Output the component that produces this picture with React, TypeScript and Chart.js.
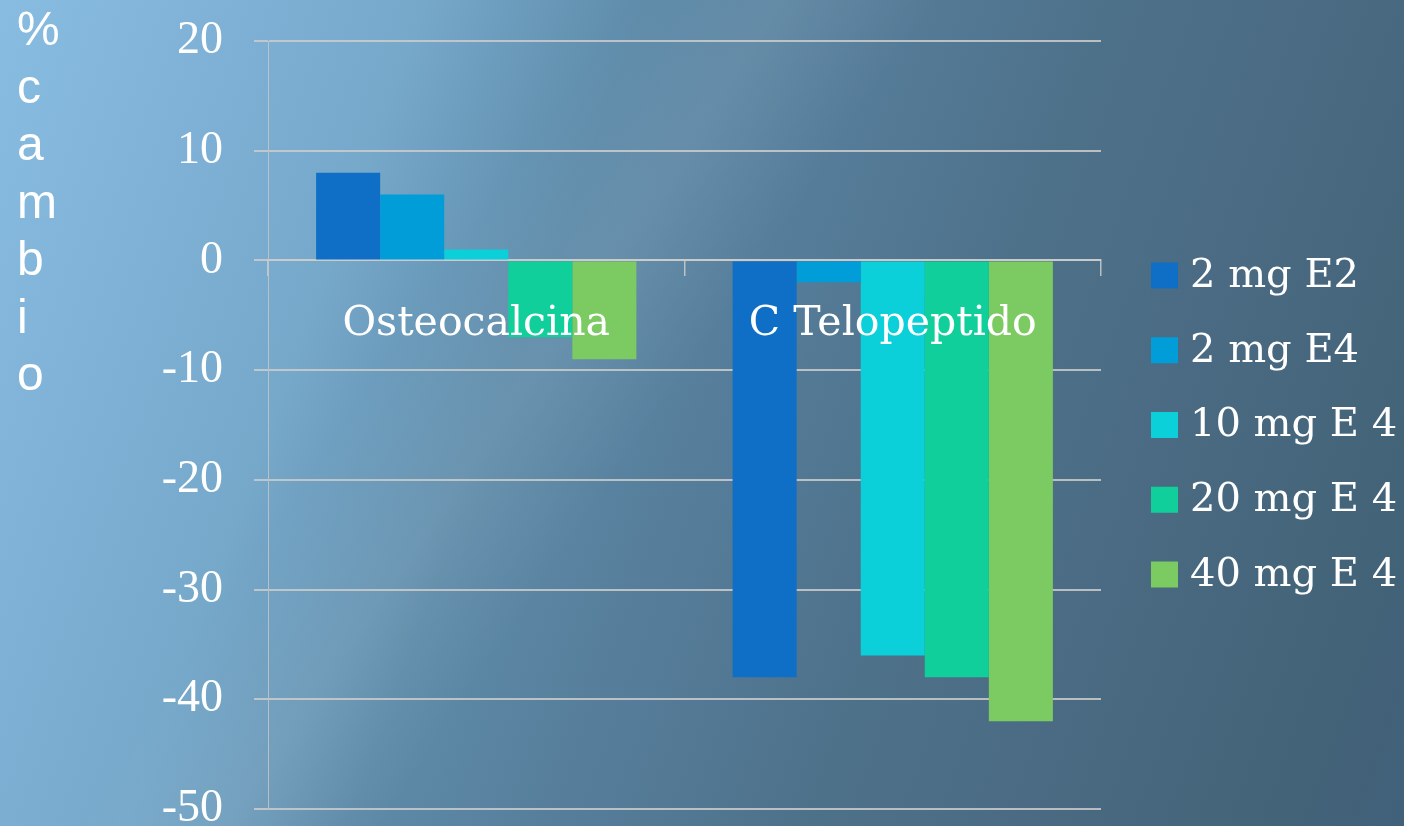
import React, { useEffect, useRef } from 'react';
import { Chart, registerables } from 'chart.js';

Chart.register(...registerables);

const categories = ['Osteocalcina', 'C Telopeptido'];
const seriesNames = ['2 mg E2', '2 mg E4', '10 mg E 4', '20 mg E 4', '40 mg E 4'];
const values2mgE2 = [8, -38];
const values2mgE4 = [6, -2];
const values10mgE4 = [1, -36];
const values20mgE4 = [-7, -38];
const values40mgE4 = [-9, -42];
const seriesColors = ['#0F6FC6', '#009DD9', '#0BD0D9', '#10CF9B', '#7CCA62'];
const yMin = -50;
const yMax = 20;
const yStep = 10;
const yTitle = '% cambio';

const SERIF = '"DejaVu Serif", serif';
const TICK_SERIF = '"Liberation Serif", serif';
const SANS = '"Liberation Sans", Arial, sans-serif';
const GRID = 'rgba(205,205,205,0.85)';

const legendPlugin = {
  id: 'sideLegend',
  afterDraw(chart: any) {
    const { ctx, chartArea } = chart;
    const ds = chart.data.datasets;
    const step = 74.75;
    const cy = (chartArea.top + chartArea.bottom) / 2;
    const first = cy - (step * (ds.length - 1)) / 2;
    const x0 = chartArea.right + 50;
    ctx.save();
    ctx.font = `40px ${SERIF}`;
    ctx.textBaseline = 'middle';
    ctx.textAlign = 'left';
    ds.forEach((d: any, i: number) => {
      const c = first + i * step;
      ctx.fillStyle = d.backgroundColor;
      ctx.fillRect(x0, c - 13, 27, 26);
      ctx.fillStyle = '#ffffff';
      ctx.fillText(d.label, x0 + 39, c + 1);
    });
    ctx.restore();
  },
};

const titlePlugin = {
  id: 'stackedTitle',
  afterDraw(chart: any) {
    const { ctx } = chart;
    const chars = yTitle.split('').filter((ch) => ch.trim() !== '');
    ctx.save();
    ctx.font = `48px ${SANS}`;
    ctx.fillStyle = '#ffffff';
    ctx.textBaseline = 'alphabetic';
    ctx.textAlign = 'left';
    chars.forEach((ch, i) => {
      ctx.fillText(ch, 17, 45 + i * 57.5);
    });
    ctx.restore();
  },
};

export default function App() {
  const ref = useRef<HTMLCanvasElement | null>(null);

  useEffect(() => {
    if (!ref.current) return;
    const seriesValues = [values2mgE2, values2mgE4, values10mgE4, values20mgE4, values40mgE4];
    const chart = new Chart(ref.current, {
      type: 'bar',
      data: {
        labels: categories,
        datasets: seriesNames.map((name, i) => ({
          label: name,
          data: seriesValues[i],
          backgroundColor: seriesColors[i],
          borderWidth: 0,
          barPercentage: 1,
          categoryPercentage: 0.769,
        })),
      },
      options: {
        animation: false,
        responsive: false,
        layout: { padding: { top: 41, bottom: 17, left: 0, right: 303 } },
        plugins: {
          legend: { display: false },
          tooltip: { enabled: false },
        },
        scales: {
          x: {
            position: { y: 0 } as any,
            offset: true,
            grid: {
              display: true,
              drawOnChartArea: false,
              drawTicks: true,
              tickLength: 15,
              offset: true,
              color: GRID,
              lineWidth: 1.5,
            },
            border: { display: true, color: GRID, width: 2 },
            ticks: {
              z: 1,
              color: '#ffffff',
              font: { family: SERIF, size: 41 },
              padding: 24,
              maxRotation: 0,
              autoSkip: false,
            },
          },
          y: {
            min: yMin,
            max: yMax,
            ticks: {
              stepSize: yStep,
              color: '#ffffff',
              font: { family: TICK_SERIF, size: 46, lineHeight: 1 },
              padding: 31,
            },
            grid: { color: GRID, lineWidth: 2, tickLength: 14 },
            border: { color: 'rgba(200,200,200,0.8)', width: 1 },
            afterFit: (s: any) => {
              s.width = 268;
              s.paddingTop = 0;
              s.paddingBottom = 0;
            },
          },
        },
      },
      plugins: [legendPlugin, titlePlugin],
    });
    return () => chart.destroy();
  }, []);

  return (
    <div
      style={{
        position: 'fixed',
        left: 0,
        top: 0,
        width: 1404,
        height: 826,
        overflow: 'hidden',
        background:
          'linear-gradient(124deg, rgba(255,255,255,0) 32%, rgba(255,255,255,0.07) 40%, rgba(255,255,255,0) 48%),' +
          'linear-gradient(110deg, #88BCE0 0%, #7DB0D4 15%, #76A8CA 25%, #5E8BA9 38%, #567E9B 50%, #4E718A 65%, #4A6B83 77%, #436378 92%, #41607A 100%)',
      }}
    >
      <canvas ref={ref} width={1404} height={826} style={{ display: 'block', width: 1404, height: 826 }} />
    </div>
  );
}
